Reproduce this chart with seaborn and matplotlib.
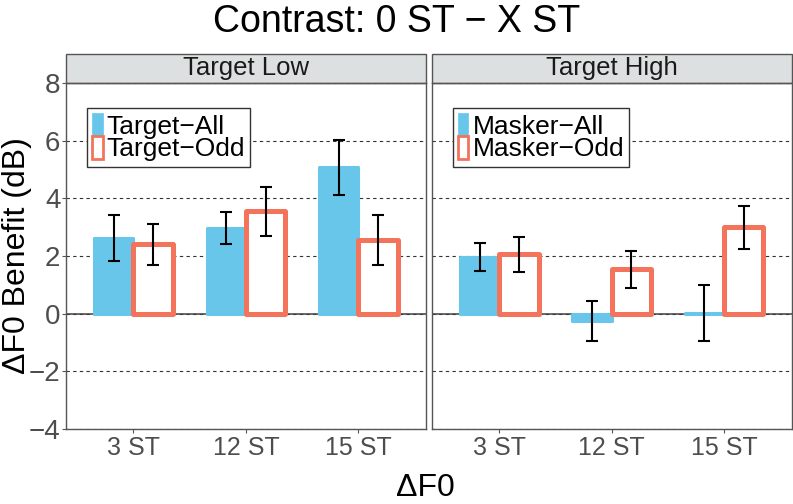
import pandas as pd
import matplotlib.pyplot as plt
import seaborn as sns
from matplotlib.patches import Patch, Rectangle

# values
panels = ["Target Low", "Target High"]
deltas = ["3 ST", "12 ST", "15 ST"]
conds = ["All", "Odd"]
legend_labels = {
    "Target Low": ["Target\u2212All", "Target\u2212Odd"],
    "Target High": ["Masker\u2212All", "Masker\u2212Odd"],
}

low_all = [2.63, 2.97, 5.07]
low_all_se = [0.80, 0.54, 0.96]
low_odd = [2.40, 3.55, 2.56]
low_odd_se = [0.72, 0.85, 0.86]
high_all = [1.96, -0.25, 0.03]
high_all_se = [0.48, 0.69, 0.98]
high_odd = [2.06, 1.54, 3.00]
high_odd_se = [0.61, 0.64, 0.74]

yticks = [-4, -2, 0, 2, 4, 6, 8]

means = {("Target Low", "All"): low_all, ("Target Low", "Odd"): low_odd,
         ("Target High", "All"): high_all, ("Target High", "Odd"): high_odd}
errs = {("Target Low", "All"): low_all_se, ("Target Low", "Odd"): low_odd_se,
        ("Target High", "All"): high_all_se, ("Target High", "Odd"): high_odd_se}

rows = []
for (panel, cond), vals in means.items():
    for d, v in zip(deltas, vals):
        rows.append({"panel": panel, "delta": d, "cond": cond, "value": v})
df = pd.DataFrame(rows)

blue = '#68C6EA'
coral = '#F4735B'

sns.set_theme(style='white')
plt.rcParams['font.family'] = ['Liberation Sans', 'DejaVu Sans']
plt.rcParams['axes.unicode_minus'] = True

fig, axes = plt.subplots(1, 2, figsize=(7.93, 5.04), dpi=100, sharey=True)
W, H = 793, 504
fig.subplots_adjust(left=66 / W, right=791.5 / W, bottom=1 - 429 / H, top=1 - 83 / H,
                    wspace=6 / 360)

for ax, panel in zip(axes, panels):
    sub = df[df['panel'] == panel]
    ax.axhline(0, color='#404040', lw=1.1, zorder=1)
    sns.barplot(data=sub, x='delta', y='value', hue='cond', order=deltas, hue_order=conds,
                palette=[blue, coral], width=0.7, errorbar=None, saturation=1,
                legend=False, ax=ax, zorder=2)

    for cont, cond in zip(ax.containers, conds):
        for bar in cont:
            if cond == 'All':
                bar.set_facecolor(blue)
                bar.set_edgecolor(blue)
                bar.set_linewidth(2.2)
            else:
                bar.set_facecolor('white')
                bar.set_edgecolor(coral)
                bar.set_linewidth(3.6)
            bar.set_joinstyle('round')
        xs = [b.get_x() + b.get_width() / 2 for b in cont]
        ax.errorbar(xs, means[(panel, cond)], yerr=errs[(panel, cond)], fmt='none',
                    ecolor='black', elinewidth=1.5, capsize=4, capthick=1.5, zorder=5)

    ax.set_xlim(-0.6, 2.6)
    ax.set_ylim(-4, 8)
    ax.set_yticks(yticks)
    ax.yaxis.grid(True, color='#333333', linestyle=(0, (3, 3)), linewidth=0.8)
    ax.set_axisbelow(True)
    ax.set_xlabel('')
    ax.set_ylabel('')
    for s in ax.spines.values():
        s.set_color('#555555')
        s.set_linewidth(1)

    ax.tick_params(axis='x', bottom=True, length=3, width=0.8, color='#555555',
                   labelsize=18, labelcolor='#4D4D4D', pad=2)
    ax.tick_params(axis='y', left=True, length=3, width=0.8, color='#555555',
                   labelsize=20, labelcolor='#4D4D4D', pad=1)

    # facet strip
    sh = 29 / 346
    ax.add_patch(Rectangle((0, 1), 1, sh, transform=ax.transAxes, clip_on=False,
                           facecolor='#DDE0E0', edgecolor='#555555', lw=1))
    ax.text(0.5, 1 + sh / 2, panel, transform=ax.transAxes, ha='center', va='center',
            fontsize=18.5, color='#1A1A1A')

    handles = [Patch(facecolor=blue, edgecolor=blue, lw=0.5),
               Patch(facecolor='white', edgecolor=coral, lw=2)]
    leg = ax.legend(handles, legend_labels[panel], loc='upper left',
                    bbox_to_anchor=(0.058, 0.928), borderaxespad=0, fontsize=19,
                    handlelength=0.4, handleheight=0.95, handletextpad=0.15,
                    labelspacing=-0.1, borderpad=0.2, fancybox=False, framealpha=1,
                    edgecolor='#333333', labelcolor='black')
    leg.get_frame().set_linewidth(1)

axes[1].tick_params(axis='y', left=False)

fig.text(0.5, 1 - 32 / H, 'Contrast: 0 ST \u2212 X ST', ha='center', va='baseline',
         fontsize=27, color='black')
fig.text(2 / W, 0.5 + (504 / 2 - 256) / H, '\u0394F0 Benefit (dB)', rotation=90,
         ha='left', va='center', fontsize=23, color='black')
fig.text(425 / W, 1 - 496 / H, '\u0394F0', ha='center', va='baseline', fontsize=23,
         color='black')

fig.savefig('out.png', dpi=100)
